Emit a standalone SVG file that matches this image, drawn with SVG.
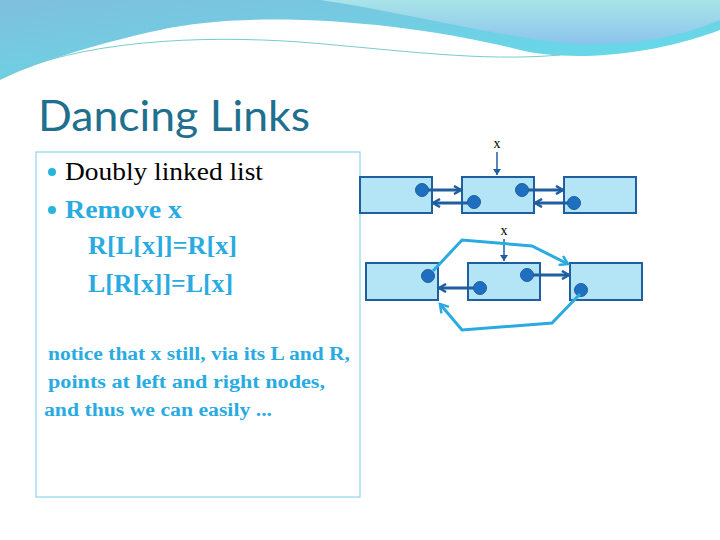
<svg xmlns="http://www.w3.org/2000/svg" width="720" height="540" viewBox="0 0 720 540">
<defs>
<linearGradient id="g1" x1="0" y1="0" x2="1" y2="1"><stop offset="0" stop-color="#7fbfdc"/><stop offset="1" stop-color="#5fe0ec"/></linearGradient>
<linearGradient id="g2" x1="0" y1="0" x2="0" y2="1"><stop offset="0" stop-color="#a8e4e8"/><stop offset="1" stop-color="#8cc4ec"/></linearGradient>
<marker id="ad" markerWidth="10" markerHeight="10" refX="8" refY="5" orient="auto" markerUnits="userSpaceOnUse"><path d="M1,1 L8,5 L1,9" fill="none" stroke="#1f5f9f" stroke-width="2.5"/></marker>
<marker id="at" markerWidth="8" markerHeight="8" refX="6" refY="4" orient="auto" markerUnits="userSpaceOnUse"><path d="M0,0 L6,4 L0,8 Z" fill="#1f5f9f"/></marker>
<marker id="al" markerWidth="12" markerHeight="12" refX="9" refY="6" orient="auto" markerUnits="userSpaceOnUse"><path d="M1,1 L9,6 L1,11" fill="none" stroke="#29abe2" stroke-width="2.5"/></marker>
<style>
.box{fill:#b3e5f7;stroke:#1f5f9f;stroke-width:2}
.dot{fill:#1f6fc0;stroke:#1f5f9f;stroke-width:1}
.ptr{stroke:#1f5f9f;stroke-width:3;fill:none;marker-end:url(#ad)}
.lnk{stroke:#29abe2;stroke-width:3;fill:none;marker-end:url(#al)}
.t{font-family:"Liberation Serif",serif}
</style>
</defs>
<rect width="720" height="540" fill="#fff"/>
<g id="background">
<path d="M0,0 H720 V30 C640,60 560,60 520,50 C400,20 250,10 160,30 C90,45 30,65 0,80 Z" fill="url(#g1)"/>
<path d="M320,0 H720 V20 C660,45 600,48 540,40 C460,28 390,10 320,0 Z" fill="url(#g2)"/>
<path d="M0,78 C80,40 200,35 300,42 C400,50 480,62 560,55" fill="none" stroke="#7cc" stroke-width="1"/>
</g>
<text x="38" y="131" font-family="Lato,sans-serif" font-size="43" fill="#1f6f8f" textLength="272" lengthAdjust="spacingAndGlyphs">Dancing Links</text>
<rect x="36" y="152" width="324" height="345" fill="none" stroke="#8dd5ec" stroke-width="1.2"/>
<g id="text" class="t">
<circle cx="52" cy="172" r="4" fill="#29b5d8"/>
<text x="65" y="180" font-size="25" fill="#000" textLength="198" lengthAdjust="spacingAndGlyphs">Doubly linked list</text>
<circle cx="52" cy="210" r="4" fill="#29b5d8"/>
<text x="65" y="218" font-size="25" font-weight="bold" fill="#29abe2" textLength="117" lengthAdjust="spacingAndGlyphs">Remove x</text>
<text x="88" y="254" font-size="25" font-weight="bold" fill="#29abe2" textLength="149" lengthAdjust="spacingAndGlyphs">R[L[x]]=R[x]</text>
<text x="88" y="292" font-size="25" font-weight="bold" fill="#29abe2" textLength="145" lengthAdjust="spacingAndGlyphs">L[R[x]]=L[x]</text>
<text x="48" y="360" font-size="18" font-weight="bold" fill="#29abe2" textLength="302" lengthAdjust="spacingAndGlyphs">notice that x still, via its L and R,</text>
<text x="48" y="388" font-size="18" font-weight="bold" fill="#29abe2" textLength="277" lengthAdjust="spacingAndGlyphs">points at left and right nodes,</text>
<text x="44" y="416" font-size="18" font-weight="bold" fill="#29abe2" textLength="228" lengthAdjust="spacingAndGlyphs">and thus we can easily ...</text>
</g>
<g id="n1"><rect class="box" x="360" y="177" width="72" height="36"/><circle class="dot" cx="422" cy="190" r="6.5"/></g>
<g id="n2"><rect class="box" x="462" y="177" width="72" height="36"/><circle class="dot" cx="474" cy="202" r="6.5"/><circle class="dot" cx="522" cy="190" r="6.5"/></g>
<g id="n3"><rect class="box" x="564" y="177" width="72" height="36"/><circle class="dot" cx="574" cy="203" r="6.5"/></g>
<g id="m1"><rect class="box" x="366" y="263" width="72" height="37"/><circle class="dot" cx="428" cy="276" r="6.5"/></g>
<g id="m2"><rect class="box" x="468" y="263" width="72" height="37"/><circle class="dot" cx="480" cy="288" r="6.5"/><circle class="dot" cx="527" cy="275" r="6.5"/></g>
<g id="m3"><rect class="box" x="570" y="263" width="72" height="37"/><circle class="dot" cx="581" cy="290" r="6.5"/></g>
<text class="t" x="497" y="148" font-size="14" text-anchor="middle">x</text>
<text class="t" x="504" y="235" font-size="14" text-anchor="middle">x</text>
<g id="connectors">
<path class="ptr" d="M428,190 H461"/>
<path class="ptr" d="M468,203 H433"/>
<path class="ptr" d="M528,190 H563"/>
<path class="ptr" d="M568,203 H535"/>
<path class="ptr" d="M533,275 H569"/>
<path class="ptr" d="M474,288 H439"/>
<path d="M497,152 V175" stroke="#1f5f9f" stroke-width="1.5" marker-end="url(#at)"/>
<path d="M504,239 V261" stroke="#1f5f9f" stroke-width="1.5" marker-end="url(#at)"/>
<path class="lnk" d="M433,271 L462,240 L532,246 L568,264"/>
<path class="lnk" d="M580,294 L552,323 L462,330 L440,304"/>
</g>
</svg>
